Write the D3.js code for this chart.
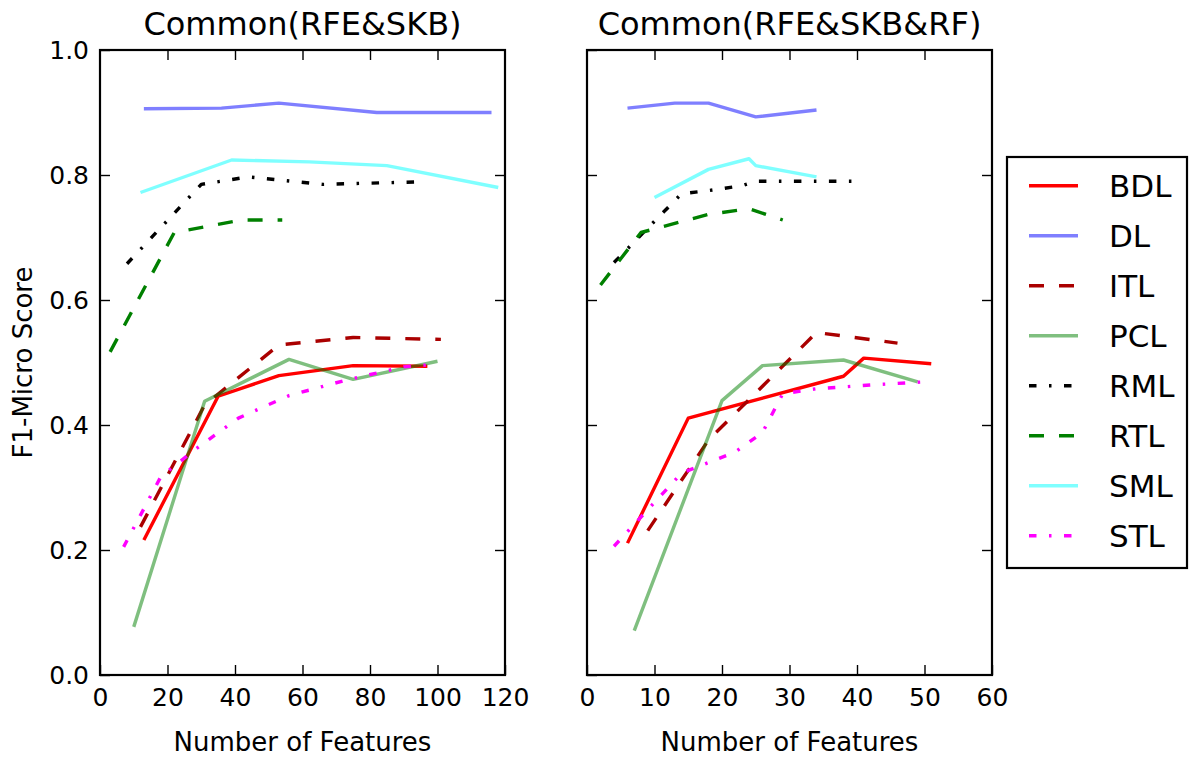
<!DOCTYPE html>
<html>
<head>
<meta charset="utf-8">
<script src="https://cdn.jsdelivr.net/npm/d3@7"></script>
<style>
  html, body { margin: 0; padding: 0; background: #fff; }
  svg { display: block; }
  text { font-family: "DejaVu Sans", sans-serif; fill: #000; }
</style>
</head>
<body>
<svg id="chart" width="1193" height="758"></svg>
<script>
// ---- series names and tick labels ----
const seriesNames = ["BDL", "DL", "ITL", "PCL", "RML", "RTL", "SML", "STL"];
const panelTitles = ["Common(RFE&SKB)", "Common(RFE&SKB&RF)"];
const xTicksSkb = [0, 20, 40, 60, 80, 100, 120];
const xTicksSkbRf = [0, 10, 20, 30, 40, 50, 60];
const yTicks = [0.0, 0.2, 0.4, 0.6, 0.8, 1.0];

// ---- Common(RFE&SKB): [number of features, F1-micro] ----
const skbBDL = [[13, 0.216], [35, 0.446], [53, 0.479], [75, 0.495], [97, 0.494]];
const skbDL  = [[13, 0.906], [36, 0.907], [53, 0.915], [82, 0.900], [116, 0.900]];
const skbITL = [[12, 0.237], [31, 0.432], [53, 0.528], [75, 0.540], [101, 0.537]];
const skbPCL = [[10, 0.077], [31, 0.438], [56, 0.505], [75, 0.473], [100, 0.502]];
const skbRML = [[8, 0.658], [30, 0.785], [44, 0.797], [55, 0.791], [66, 0.785], [80, 0.787], [95, 0.789]];
const skbRTL = [[3, 0.517], [22, 0.708], [42, 0.728], [54, 0.728]];
const skbSML = [[12, 0.772], [39, 0.824], [62, 0.821], [85, 0.815], [118, 0.780]];
const skbSTL = [[7, 0.205], [18, 0.317], [28, 0.360], [41, 0.411], [56, 0.447], [73, 0.472], [90, 0.493], [97, 0.496]];

// ---- Common(RFE&SKB&RF) ----
const rfBDL = [[6, 0.211], [15, 0.411], [38, 0.478], [41, 0.507], [51, 0.498]];
const rfDL  = [[6, 0.907], [13, 0.915], [18, 0.915], [25, 0.893], [34, 0.904]];
const rfITL = [[9, 0.231], [18, 0.376], [34, 0.548], [46, 0.531]];
const rfPCL = [[7, 0.071], [20, 0.439], [26, 0.495], [38, 0.504], [49, 0.469]];
const rfRML = [[4, 0.660], [14, 0.770], [18, 0.775], [23, 0.783], [25, 0.790], [40, 0.790]];
const rfRTL = [[2, 0.624], [8, 0.708], [18, 0.737], [24, 0.746], [29, 0.728]];
const rfSML = [[10, 0.764], [18, 0.809], [24, 0.826], [25, 0.815], [34, 0.797]];
const rfSTL = [[4, 0.206], [14, 0.323], [22, 0.357], [26, 0.388], [29, 0.450], [34, 0.458], [42, 0.464], [50, 0.469]];

// ---- line styles per series ----
const styles = {
  BDL: { color: "#ff0000", opacity: 1,   dash: null },
  DL:  { color: "#0000ff", opacity: 0.5, dash: null },
  ITL: { color: "#aa0000", opacity: 1,   dash: "15,15" },
  PCL: { color: "#008000", opacity: 0.5, dash: null },
  RML: { color: "#000000", opacity: 1,   dash: "7.5,12.5,2.5,12.5" },
  RTL: { color: "#008000", opacity: 1,   dash: "15,15" },
  SML: { color: "#00ffff", opacity: 0.5, dash: null },
  STL: { color: "#ff00ff", opacity: 1,   dash: "7.5,12.5,2.5,12.5" }
};

const panels = [
  { title: panelTitles[0], x0: 100, x1: 505, xMax: 120, xTicks: xTicksSkb, yLabels: true,
    series: { BDL: skbBDL, DL: skbDL, ITL: skbITL, PCL: skbPCL, RML: skbRML, RTL: skbRTL, SML: skbSML, STL: skbSTL } },
  { title: panelTitles[1], x0: 587, x1: 992, xMax: 60, xTicks: xTicksSkbRf, yLabels: false,
    series: { BDL: rfBDL, DL: rfDL, ITL: rfITL, PCL: rfPCL, RML: rfRML, RTL: rfRTL, SML: rfSML, STL: rfSTL } }
];

const plotTop = 50, plotBottom = 675;
const svg = d3.select("#chart");
const lineW = 3.4;

function styleAxis(g) {
  g.select(".domain").remove();
  g.selectAll(".tick line").attr("stroke", "#000").attr("stroke-width", 1.4);
  g.selectAll("text").attr("font-family", "DejaVu Sans, sans-serif").attr("font-size", 25).attr("fill", "#000");
  g.attr("font-size", null).attr("font-family", null);
}

panels.forEach(p => {
  const x = d3.scaleLinear().domain([0, p.xMax]).range([p.x0, p.x1]);
  const y = d3.scaleLinear().domain([0, 1]).range([plotBottom, plotTop]);

  // ticks point inward on all four sides
  svg.append("g").attr("transform", `translate(0,${plotBottom})`)
    .call(d3.axisBottom(x).tickValues(p.xTicks).tickSize(-10).tickPadding(13).tickFormat(d3.format("d")))
    .call(styleAxis);
  svg.append("g").attr("transform", `translate(0,${plotTop})`)
    .call(d3.axisTop(x).tickValues(p.xTicks.slice(1, -1)).tickSize(-10).tickFormat(""))
    .call(styleAxis);
  svg.append("g").attr("transform", `translate(${p.x0},0)`)
    .call(d3.axisLeft(y).tickValues(yTicks).tickSize(-10).tickPadding(11)
      .tickFormat(p.yLabels ? d3.format(".1f") : ""))
    .call(styleAxis);
  svg.append("g").attr("transform", `translate(${p.x1},0)`)
    .call(d3.axisRight(y).tickValues(yTicks.slice(1, -1)).tickSize(-10).tickFormat(""))
    .call(styleAxis);

  const line = d3.line().x(d => x(d[0])).y(d => y(d[1]));
  seriesNames.forEach(name => {
    const s = styles[name];
    svg.append("path")
      .datum(p.series[name])
      .attr("d", line)
      .attr("fill", "none")
      .attr("stroke", s.color)
      .attr("stroke-opacity", s.opacity)
      .attr("stroke-width", lineW)
      .attr("stroke-dasharray", s.dash)
      .attr("stroke-linejoin", "round");
  });

  // frame
  svg.append("rect")
    .attr("x", p.x0).attr("y", plotTop)
    .attr("width", p.x1 - p.x0).attr("height", plotBottom - plotTop)
    .attr("fill", "none").attr("stroke", "#000").attr("stroke-width", 2.2);

  svg.append("text")
    .attr("x", (p.x0 + p.x1) / 2).attr("y", 35)
    .attr("text-anchor", "middle").attr("font-size", 32)
    .text(p.title);

  svg.append("text")
    .attr("x", (p.x0 + p.x1) / 2).attr("y", 751)
    .attr("text-anchor", "middle").attr("font-size", 26)
    .text("Number of Features");
});

svg.append("text")
  .attr("transform", `translate(32,${(plotTop + plotBottom) / 2}) rotate(-90)`)
  .attr("text-anchor", "middle").attr("font-size", 26)
  .text("F1-Micro Score");

// legend
const lg = svg.append("g");
lg.append("rect")
  .attr("x", 1007).attr("y", 157).attr("width", 180).attr("height", 411)
  .attr("fill", "#fff").attr("stroke", "#000").attr("stroke-width", 2.2);
seriesNames.forEach((name, i) => {
  const s = styles[name];
  const yy = 185.7 + i * 50;
  lg.append("line")
    .attr("x1", 1029).attr("x2", 1078).attr("y1", yy).attr("y2", yy)
    .attr("stroke", s.color).attr("stroke-opacity", s.opacity)
    .attr("stroke-width", lineW).attr("stroke-dasharray", s.dash);
  lg.append("text")
    .attr("x", 1109).attr("y", yy).attr("dy", "0.36em")
    .attr("font-size", 31)
    .text(name);
});
</script>
</body>
</html>
